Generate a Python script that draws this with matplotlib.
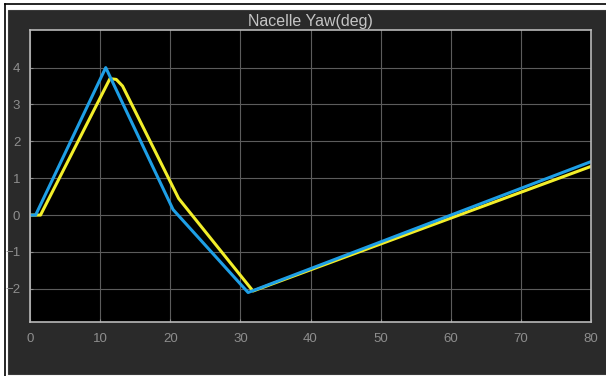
import matplotlib.pyplot as plt
from matplotlib.lines import Line2D
from matplotlib.patches import Rectangle

# values
blue_t = [0, 0.8, 10.8, 20.4, 31.1, 80]
blue_y = [0, 0, 4.0, 0.15, -2.1, 1.45]

yellow_t = [0, 1.5, 11.4, 12.3, 13.2, 21.2, 31.8, 80]
yellow_y = [0, 0, 3.7, 3.68, 3.5, 0.45, -2.06, 1.32]

x_ticks = [0, 10, 20, 30, 40, 50, 60, 70, 80]
y_ticks = [-2, -1, 0, 1, 2, 3, 4]

plt.rcParams["font.family"] = ["Liberation Sans", "DejaVu Sans"]

W, H = 606, 376
fig = plt.figure(figsize=(W / 100, H / 100), dpi=100, facecolor="white")

# scope window: thin black frame on left/top, then dark panel
fig.add_artist(Line2D([4.5 / W, 4.5 / W], [0, 1 - 4 / H], color="black", lw=1.2, transform=fig.transFigure))
fig.add_artist(Line2D([4.5 / W, 1], [1 - 4 / H, 1 - 4 / H], color="black", lw=1.2, transform=fig.transFigure))
fig.add_artist(Rectangle((8 / W, 2 / H), (W - 8) / W, (H - 12) / H, transform=fig.transFigure,
                         facecolor="#2a2a2a", edgecolor="#3a3a3a", lw=0.8, zorder=0))

ax = fig.add_axes([30 / W, 54 / H, 561 / W, 292 / H])
ax.set_facecolor("black")
ax.plot(yellow_t, yellow_y, color="#f2ee2a", lw=2.2, solid_joinstyle="round")
ax.plot(blue_t, blue_y, color="#1e9fe6", lw=2.2, solid_joinstyle="round")

ax.set_xlim(0, 80)
ax.set_ylim(-2.9, 5.02)
ax.set_xticks(x_ticks)
ax.set_yticks(y_ticks)
ax.grid(True, color="#5c5c5c", lw=0.8)
ax.set_axisbelow(True)
ax.tick_params(colors="#8e8e8e", labelsize=9.5, length=2, direction="in")
ax.tick_params(axis="x", pad=8)
ax.tick_params(axis="y", pad=7)
for s in ax.spines.values():
    s.set_color("#b8b8b8")
    s.set_linewidth(1.2)
ax.set_title("Nacelle Yaw(deg)", color="#c4c4c4", fontsize=11.5, pad=3)

fig.savefig("out.png", dpi=100, facecolor="white")
